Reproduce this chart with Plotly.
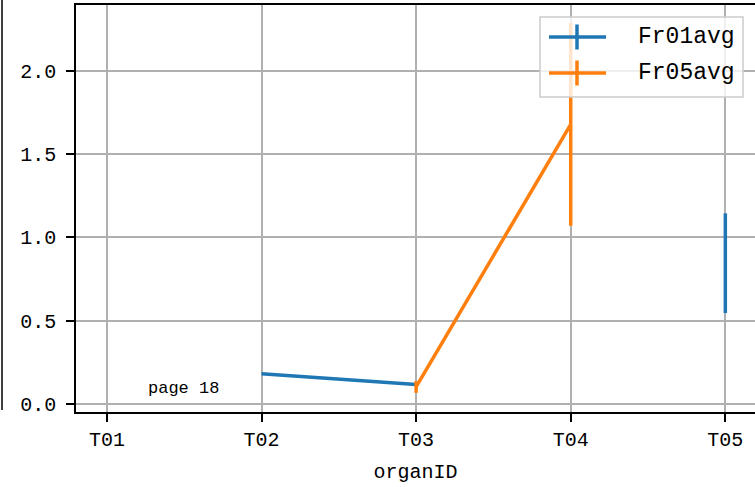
import plotly.graph_objects as go

categories = ["T01", "T02", "T03", "T04", "T05"]
fr01_avg = [None, 0.18, 0.115, None, 0.845]
fr01_err = [0, 0, 0, 0, 0.30]
fr05_avg = [None, None, 0.10, 1.68, None]
fr05_err = [0, 0, 0.035, 0.61, 0]
y_ticks = [0.0, 0.5, 1.0, 1.5, 2.0]

BLUE = "#1f77b4"
ORANGE = "#ff7f0e"
FONT = "Liberation Mono"

W, H = 755, 487
L, R, T, B = 76, 0, 5, 75
PW, PH = W - L - R, H - T - B


def px(x):
    return (x - L) / PW


def py(y):
    return (H - B - y) / PH


fig = go.Figure()
fig.add_trace(go.Scatter(
    x=categories, y=fr01_avg, mode="lines", name="Fr01avg",
    line=dict(color=BLUE, width=3.5), connectgaps=False,
    error_y=dict(type="data", array=fr01_err, visible=True, color=BLUE, thickness=3.5, width=0),
    showlegend=False,
))
fig.add_trace(go.Scatter(
    x=categories, y=fr05_avg, mode="lines", name="Fr05avg",
    line=dict(color=ORANGE, width=3.5), connectgaps=False,
    error_y=dict(type="data", array=fr05_err, visible=True, color=ORANGE, thickness=3.5, width=0),
    showlegend=False,
))

shapes = []
annotations = []
# neighbouring frame line at far left
shapes.append(dict(type="line", xref="paper", yref="paper", x0=px(2), x1=px(2), y0=py(0), y1=py(410),
                   line=dict(color="black", width=1.5)))
# legend box
shapes.append(dict(type="rect", xref="paper", yref="paper", x0=px(540), x1=px(743), y0=py(17), y1=py(97),
                   line=dict(color="#cccccc", width=1.5), fillcolor="rgba(255,255,255,0.8)", layer="above"))
for name, color, yc in [("Fr01avg", BLUE, 37), ("Fr05avg", ORANGE, 73)]:
    shapes.append(dict(type="line", xref="paper", yref="paper", x0=px(549), x1=px(606), y0=py(yc), y1=py(yc),
                       line=dict(color=color, width=3.5), layer="above"))
    shapes.append(dict(type="line", xref="paper", yref="paper", x0=px(577), x1=px(577), y0=py(yc - 12.5), y1=py(yc + 12.5),
                       line=dict(color=color, width=3.5), layer="above"))
    annotations.append(dict(text=name, xref="paper", yref="paper", x=px(636), y=py(yc), xanchor="left", yanchor="middle",
                            showarrow=False, font=dict(family=FONT, size=23, color="black")))
annotations.append(dict(text="page 18", xref="paper", yref="paper", x=px(146), y=py(388), xanchor="left", yanchor="middle",
                        showarrow=False, font=dict(family=FONT, size=17, color="black")))

fig.update_layout(
    width=W, height=H,
    margin=dict(l=L, r=R, t=T, b=B),
    paper_bgcolor="white", plot_bgcolor="white",
    font=dict(family=FONT, size=20, color="black"),
    shapes=shapes, annotations=annotations,
)
fig.update_xaxes(
    type="category", range=[-0.2, -0.2 + PW / 154.6],
    showgrid=True, gridcolor="#b0b0b0", gridwidth=1.5,
    showline=True, linecolor="black", linewidth=1.5, mirror=True,
    ticks="outside", ticklen=8, tickwidth=1.5, tickcolor="black",
    title=dict(text="organID", standoff=13, font=dict(family=FONT, size=20)),
    zeroline=False, automargin=False,
)
fig.update_yaxes(
    range=[-0.0506, 2.399], tickvals=y_ticks, tickformat=".1f",
    showgrid=True, gridcolor="#b0b0b0", gridwidth=1.5,
    showline=True, linecolor="black", linewidth=1.5, mirror=False,
    ticks="outside", ticklen=8, tickwidth=1.5, tickcolor="black",
    ticklabelstandoff=6, zeroline=False, automargin=False,
)

fig.write_html("out.html", config={"displayModeBar": False},
               post_script="document.body.style.margin='0';document.body.style.overflow='hidden';")
